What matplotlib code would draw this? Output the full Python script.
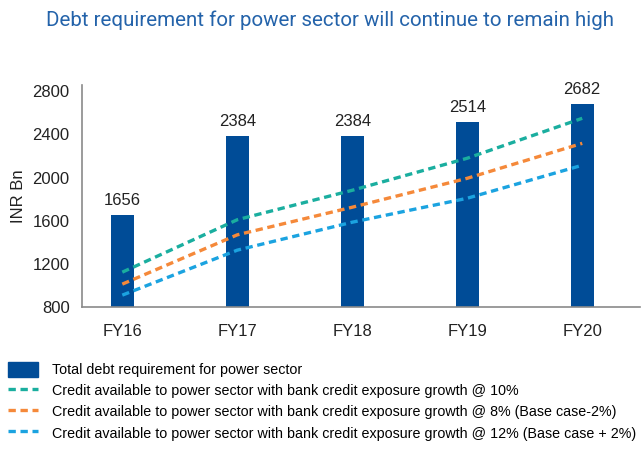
import matplotlib.pyplot as plt
from matplotlib.patches import Patch
from matplotlib.lines import Line2D

years = ['FY16', 'FY17', 'FY18', 'FY19', 'FY20']
debt_req = [1656, 2384, 2384, 2514, 2682]
credit_10 = [1124, 1610, 1883, 2180, 2550]
credit_8 = [1013, 1470, 1726, 1994, 2318]
credit_12 = [911, 1328, 1587, 1809, 2115]

bar_col = '#004C97'
teal = '#1AAE9F'
orange = '#F5893A'
sky = '#1BA3E0'

plt.rcParams['font.family'] = ['Liberation Sans', 'DejaVu Sans']

fig = plt.figure(figsize=(6.41, 4.49), dpi=100)
ax = fig.add_axes([0.128, 0.316, 0.87, 0.495])

x = list(range(len(years)))
ax.bar(x, debt_req, width=0.2, color=bar_col, zorder=2)
for xi, v in zip(x, debt_req):
    ax.annotate(str(v), (xi, v), xytext=(0, 5), textcoords='offset points',
                ha='center', va='bottom', fontsize=12, color='#222222')

dash = (0, (2.2, 1.4))
ax.plot(x, credit_10, color=teal, lw=2.4, linestyle=dash, zorder=3)
ax.plot(x, credit_8, color=orange, lw=2.4, linestyle=dash, zorder=3)
ax.plot(x, credit_12, color=sky, lw=2.4, linestyle=dash, zorder=3)

ax.set_xlim(-0.35, 4.5)
ax.set_ylim(800, 2860)
ax.set_yticks([800, 1200, 1600, 2000, 2400, 2800])
ax.set_xticks(x)
ax.set_xticklabels(years)
ax.tick_params(length=0, labelsize=12, colors='#222222')
ax.tick_params(axis='x', pad=12)
ax.tick_params(axis='y', pad=9)
for s in ['top', 'right']:
    ax.spines[s].set_visible(False)
for s in ['left', 'bottom']:
    ax.spines[s].set_color('#8a8a8a')
    ax.spines[s].set_linewidth(1.2)
ax.set_ylabel('INR Bn', fontsize=12, color='#222222')
ax.yaxis.set_label_coords(-0.1, 0.5)

fig.text(0.515, 0.955, 'Debt requirement for power sector will continue to remain high',
         ha='center', va='center', fontsize=14.8, color='#2463AA', family='Roboto')

handles = [
    Patch(color=bar_col),
    Line2D([], [], color=teal, lw=2.4, linestyle=dash),
    Line2D([], [], color=orange, lw=2.4, linestyle=dash),
    Line2D([], [], color=sky, lw=2.4, linestyle=dash),
]
labels = [
    'Total debt requirement for power sector',
    'Credit available to power sector with bank credit exposure growth @ 10%',
    'Credit available to power sector with bank credit exposure growth @ 8% (Base case-2%)',
    'Credit available to power sector with bank credit exposure growth @ 12% (Base case + 2%)',
]
fig.legend(handles, labels, loc='upper left', bbox_to_anchor=(0.0125, 0.194),
           frameon=False, fontsize=10.3, handlelength=2.1, handleheight=1.2,
           handletextpad=1.0, labelspacing=0.42, borderaxespad=0,
           borderpad=0)

fig.savefig('out.png', dpi=100)
